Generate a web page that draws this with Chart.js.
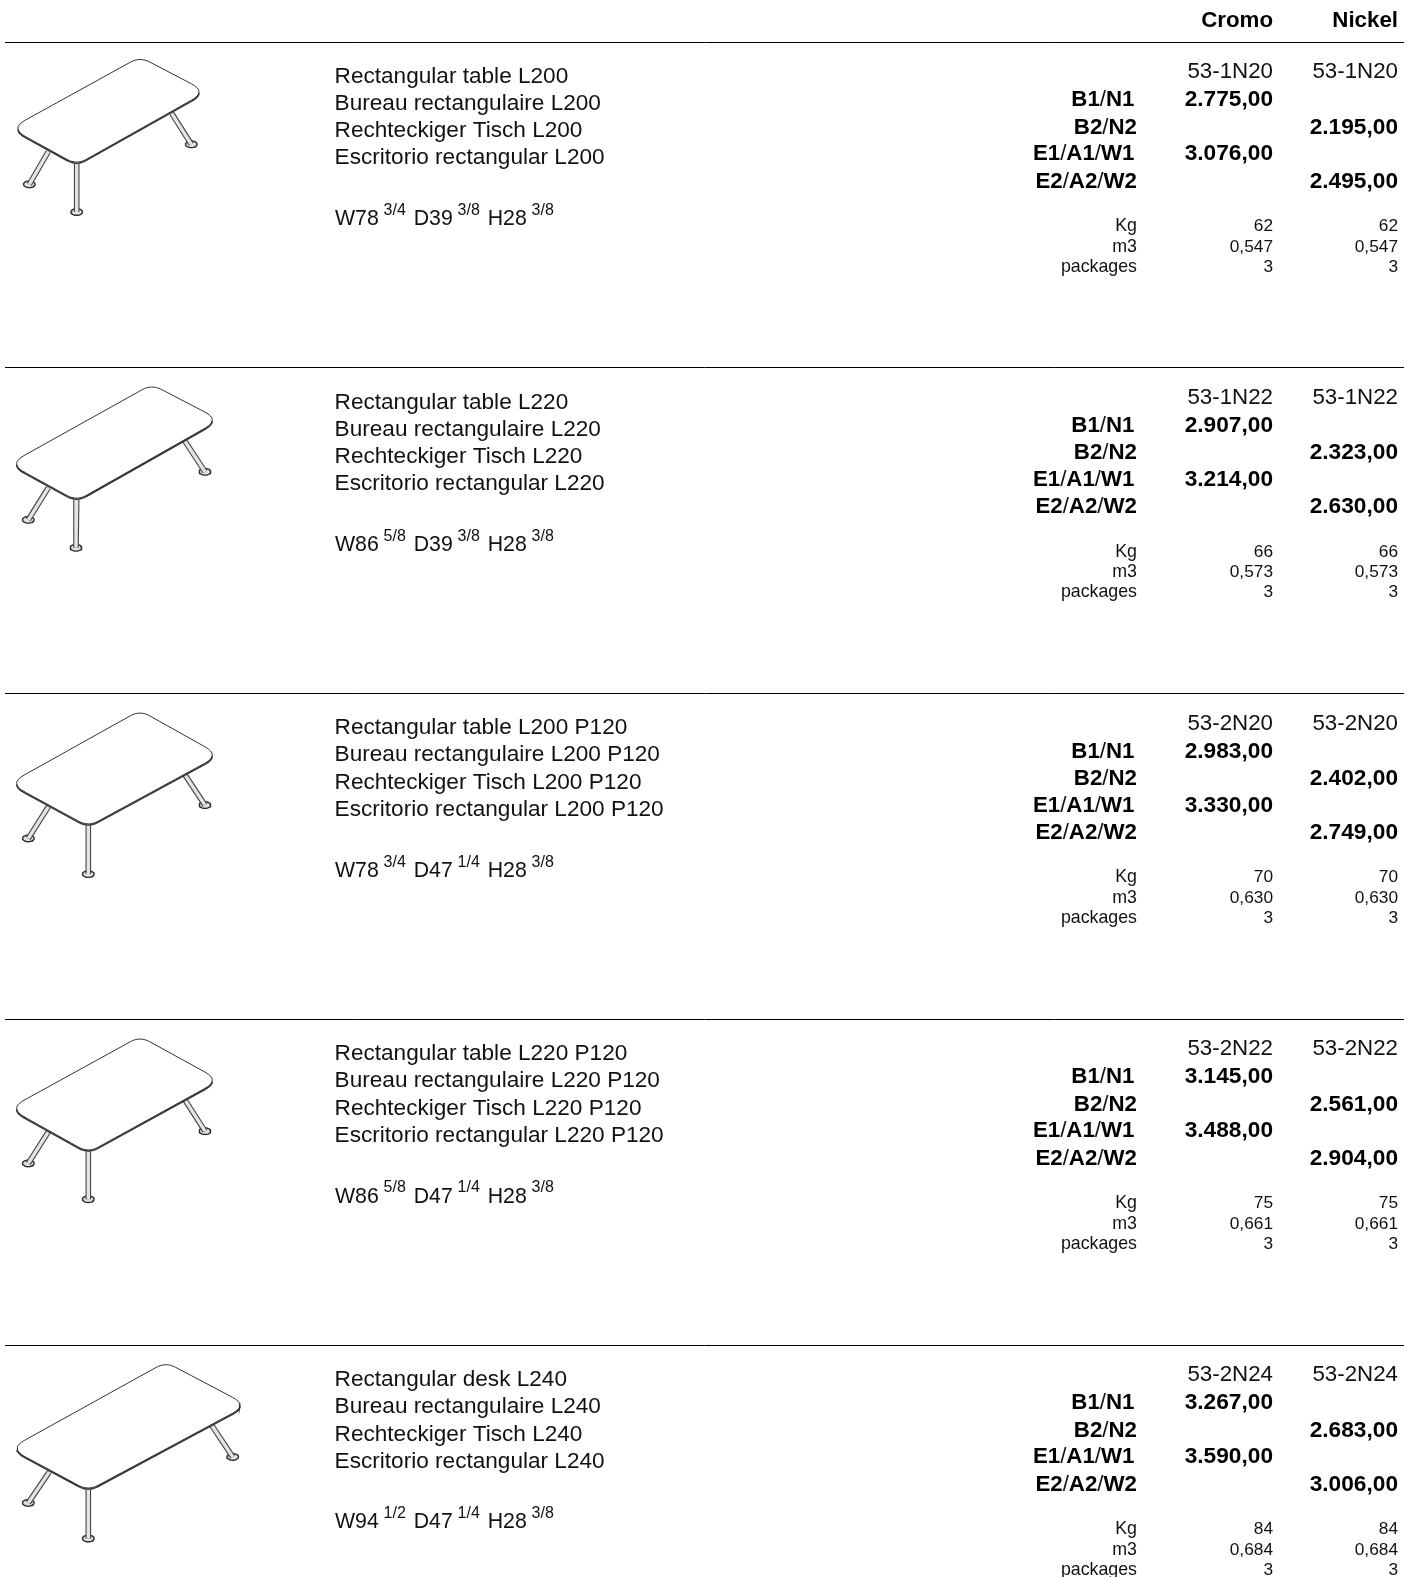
<!DOCTYPE html>
<html>
<head>
<meta charset="utf-8">
<title>Price list</title>
<script src="https://cdn.jsdelivr.net/npm/chart.js@4/dist/chart.umd.min.js"></script>
<style>
html, body { margin: 0; padding: 0; background: #fff; overflow: hidden; }
canvas { display: block; }
</style>
</head>
<body>
<canvas id="sheet" width="1419" height="1577"></canvas>
<script>
const finishes = ["Cromo", "Nickel"];
const tiers = ["B1/N1", "B2/N2", "E1/A1/W1", "E2/A2/W2"];
const specLabels = ["Kg", "m3", "packages"];

const names = [
    ["Rectangular table L200", "Bureau rectangulaire L200", "Rechteckiger Tisch L200", "Escritorio rectangular L200"],
    ["Rectangular table L220", "Bureau rectangulaire L220", "Rechteckiger Tisch L220", "Escritorio rectangular L220"],
    ["Rectangular table L200 P120", "Bureau rectangulaire L200 P120", "Rechteckiger Tisch L200 P120", "Escritorio rectangular L200 P120"],
    ["Rectangular table L220 P120", "Bureau rectangulaire L220 P120", "Rechteckiger Tisch L220 P120", "Escritorio rectangular L220 P120"],
    ["Rectangular desk L240", "Bureau rectangulaire L240", "Rechteckiger Tisch L240", "Escritorio rectangular L240"]
];
const dimensions = [
    ["W78", "3/4", "D39", "3/8", "H28", "3/8"],
    ["W86", "5/8", "D39", "3/8", "H28", "3/8"],
    ["W78", "3/4", "D47", "1/4", "H28", "3/8"],
    ["W86", "5/8", "D47", "1/4", "H28", "3/8"],
    ["W94", "1/2", "D47", "1/4", "H28", "3/8"]
];
const codes = ["53-1N20", "53-1N22", "53-2N20", "53-2N22", "53-2N24"];
const cromoB1 = [2775, 2907, 2983, 3145, 3267];
const nickelB2 = [2195, 2323, 2402, 2561, 2683];
const cromoE1 = [3076, 3214, 3330, 3488, 3590];
const nickelE2 = [2495, 2630, 2749, 2904, 3006];
const weights = ["62", "66", "70", "75", "84"];
const volumes = ["0,547", "0,573", "0,630", "0,661", "0,684"];
const packages = ["3", "3", "3", "3", "3"];

// table drawings, y is relative to the rule above each row
const tableLeft = [[18, 86.3], [16.7, 96], [16.7, 89.8], [16.7, 89], [17.3, 103.3]];
const tableTop = [[140, 16.3], [151.7, 18], [140, 18.2], [140, 18.4], [165.7, 18.3]];
const tableRight = [[199, 49.7], [212.3, 52], [212.3, 61.5], [212.3, 60.8], [240, 60]];
const tableBottom = [[76.7, 121.3], [76.7, 131.6], [88.3, 131.5], [88.3, 131.8], [88.3, 144]];
const footFront = [[76.7, 170], [76, 180], [88.3, 180.5], [88.3, 179.8], [88.3, 193.3]];
const footLeft = [[29.3, 142.3], [28.3, 152], [28.3, 144.8], [28.3, 144], [28.3, 157.7]];
const footRight = [[191.3, 102.3], [205, 104], [205, 111.5], [205, 111.8], [232.7, 111.7]];
const legLeftTop = [[48.3, 109.7], [48.3, 120], [48.3, 113.2], [48.3, 112.4], [49.3, 126.7]];
const legRightTop = [[171.7, 71.3], [184, 72], [184, 79.8], [184, 79], [211.7, 80]];

const rowY = [42, 367.8, 693.6, 1019.4, 1345.2];
const FONT = '"Liberation Sans", Arial, sans-serif';
const INK = "#111";

function price(v) {
    let s = String(v);
    return s.slice(0, -3) + "." + s.slice(-3) + ",00";
}

function pt(p, dy) {
    return { x: p[0], y: p[1] + dy };
}

function roundedTop(i) {
    let dy = rowY[i];
    let corners = [
        { c: { x: tableLeft[i][0] - 7.5, y: tableLeft[i][1] + dy }, r: 17 },
        { c: { x: tableTop[i][0], y: tableTop[i][1] + dy - 1.4 }, r: 11 },
        { c: { x: tableRight[i][0] + 7.5, y: tableRight[i][1] + dy }, r: 17 },
        { c: { x: tableBottom[i][0], y: tableBottom[i][1] + dy + 1.4 }, r: 11 }
    ];
    let out = [];
    corners.forEach((k, n) => {
        let prev = corners[(n + 3) % 4].c, next = corners[(n + 1) % 4].c;
        let toward = (o) => {
            let d = Math.hypot(o.x - k.c.x, o.y - k.c.y);
            return { x: k.c.x + (o.x - k.c.x) * k.r / d, y: k.c.y + (o.y - k.c.y) * k.r / d };
        };
        let a = toward(prev), b = toward(next);
        for (let s = 0; s <= 8; s++) {
            let t = s / 8, u = 1 - t;
            out.push({
                x: u * u * a.x + 2 * u * t * k.c.x + t * t * b.x,
                y: u * u * a.y + 2 * u * t * k.c.y + t * t * b.y
            });
        }
    });
    return out;
}

// starts at the bottom of the ring and runs a little past the start so it closes cleanly
function ellipse(c, rx, ry) {
    let out = [];
    for (let a = 6; a <= 32; a++) {
        out.push({ x: c.x + rx * Math.cos(a / 24 * 2 * Math.PI), y: c.y + ry * Math.sin(a / 24 * 2 * Math.PI) });
    }
    return out;
}

function stroke(data, color, width, order, fillColor) {
    return {
        data, order,
        showLine: true,
        pointRadius: 0,
        borderColor: color,
        borderWidth: width,
        borderCapStyle: fillColor ? "round" : "butt",
        fill: fillColor ? "shape" : false,
        backgroundColor: fillColor || "transparent"
    };
}

let datasets = [];
rowY.forEach((dy, i) => {
    let ruleAt = Math.floor(dy) + 0.5;
    datasets.push(stroke([{ x: 5, y: ruleAt }, { x: 1404, y: ruleAt }], "#000", 1, 1));

    [footLeft, footRight, footFront].forEach(f => {
        let c = pt(f[i], dy);
        datasets.push(stroke(ellipse(c, 5.8, 3.3), "#2c2c2c", 1.4, 6, "#e2e2e2"));
    });
    let legs = [
        [pt(legLeftTop[i], dy), pt(footLeft[i], dy)],
        [pt(legRightTop[i], dy), pt(footRight[i], dy)],
        [pt(tableBottom[i], dy), pt(footFront[i], dy)]
    ];
    legs.forEach(l => {
        datasets.push(stroke(l, "#444", 5.6, 5));
        datasets.push(stroke(l, "#e4e4e4", 3.4, 4));
    });

    let outline = roundedTop(i);
    let closed = outline.concat([outline[0]]);
    datasets.push(stroke(closed, "#333", 1, 1, "#fff"));
    let lower = outline.slice(22).concat(outline.slice(0, 5)).map(p => ({ x: p.x, y: p.y + 1.1 }));
    datasets.push(stroke(lower, "#333", 1.5, 0));
});

const textPlugin = {
    id: "sheetText",
    afterDatasetsDraw(chart) {
        let ctx = chart.ctx;
        let sx = v => chart.scales.x.getPixelForValue(v);
        let sy = v => chart.scales.y.getPixelForValue(v);
        let put = (s, x, y, font, align, color) => {
            ctx.font = font;
            ctx.textAlign = align;
            ctx.fillStyle = color || INK;
            ctx.fillText(s, sx(x), sy(y));
        };
        ctx.save();
        ctx.textBaseline = "alphabetic";

        const regular = "22.3px " + FONT;
        const nameFont = "22.6px " + FONT;
        const dimFont = "21.3px " + FONT;
        const bold = "bold 22.3px " + FONT;
        const priceFont = "bold 22.7px " + FONT;
        const small = "17.3px " + FONT;
        const specFont = "17.8px " + FONT;
        const sup = "16px " + FONT;
        const colCromo = 1273, colNickel = 1398, colLabel = 1137;

        put(finishes[0], colCromo, 26.7, bold, "right", "#000");
        put(finishes[1], colNickel, 26.7, bold, "right", "#000");

        rowY.forEach((dy, i) => {
            names[i].forEach((n, k) => {
                put(n, 334.6, dy + [40.8, 67.8, 95.4, 122.4][k], nameFont, "left");
            });

            let x = 335;
            dimensions[i].forEach((d, k) => {
                if (k % 2 === 0) {
                    put(d, x, dy + 183.2, dimFont, "left");
                    ctx.font = dimFont;
                    x += ctx.measureText(d).width + 4.8;
                } else {
                    put(d, x, dy + 173, sup, "left");
                    ctx.font = sup;
                    x += ctx.measureText(d).width + 7.9;
                }
            });

            put(codes[i], colCromo, dy + 36, regular, "right");
            put(codes[i], colNickel, dy + 36, regular, "right");

            let tierY = [64, 91.5, 118, 145.5];
            tiers.forEach((t, k) => {
                let right = colLabel - (k % 2 === 0 ? 2.5 : 0);
                let parts = t.split("/");
                for (let p = parts.length - 1; p >= 0; p--) {
                    put(parts[p], right, dy + tierY[k], bold, "right", "#000");
                    ctx.font = bold;
                    right -= ctx.measureText(parts[p]).width;
                    if (p > 0) {
                        put("/", right, dy + tierY[k], regular, "right");
                        ctx.font = regular;
                        right -= ctx.measureText("/").width;
                    }
                }
            });

            put(price(cromoB1[i]), colCromo, dy + tierY[0], priceFont, "right", "#000");
            put(price(nickelB2[i]), colNickel, dy + tierY[1], priceFont, "right", "#000");
            put(price(cromoE1[i]), colCromo, dy + tierY[2], priceFont, "right", "#000");
            put(price(nickelE2[i]), colNickel, dy + tierY[3], priceFont, "right", "#000");

            let specY = [188.7, 209.6, 229.6];
            specLabels.forEach((l, k) => put(l, colLabel, dy + specY[k], specFont, "right"));
            [weights, volumes, packages].forEach((col, k) => {
                put(col[i], colCromo, dy + specY[k], small, "right");
                put(col[i], colNickel, dy + specY[k], small, "right");
            });
        });
        ctx.restore();
    }
};

new Chart(document.getElementById("sheet").getContext("2d"), {
    type: "scatter",
    data: { datasets },
    options: {
        responsive: false,
        animation: false,
        events: [],
        layout: { padding: 0 },
        plugins: { legend: { display: false }, tooltip: { enabled: false } },
        scales: {
            x: { type: "linear", min: 0, max: 1419, display: false },
            y: { type: "linear", min: 0, max: 1577, reverse: true, display: false }
        }
    },
    plugins: [textPlugin]
});
</script>
</body>
</html>
